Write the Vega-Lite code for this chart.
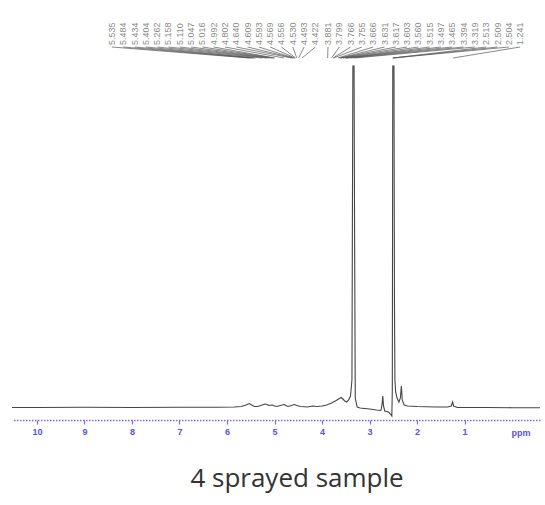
{
  "$schema": "https://vega.github.io/schema/vega-lite/v6.json",
  "width": 528,
  "height": 420,
  "autosize": "none",
  "padding": {"left": 12, "right": 5, "top": 0, "bottom": 85},
  "background": "white",
  "title": {"text": "4 sprayed sample", "orient": "bottom", "font": "Open Sans", "fontSize": 26, "fontWeight": "normal", "color": "#333333", "offset": 29, "dx": 21},
  "config": {"view": {"stroke": null}},
  "datasets": {
    "spectrum": [
      {"ppm": 10.55, "intensity": 12.5}, {"ppm": 10.0, "intensity": 12.5}, {"ppm": 9.0, "intensity": 12.7}, {"ppm": 8.0, "intensity": 12.5},
      {"ppm": 7.0, "intensity": 12.7}, {"ppm": 6.2, "intensity": 12.8}, {"ppm": 5.85, "intensity": 13}, {"ppm": 5.7, "intensity": 13.5},
      {"ppm": 5.6, "intensity": 15}, {"ppm": 5.53, "intensity": 16.5}, {"ppm": 5.48, "intensity": 15}, {"ppm": 5.42, "intensity": 13.5},
      {"ppm": 5.35, "intensity": 13.5}, {"ppm": 5.26, "intensity": 15}, {"ppm": 5.2, "intensity": 16}, {"ppm": 5.16, "intensity": 15.5},
      {"ppm": 5.11, "intensity": 14.5}, {"ppm": 5.05, "intensity": 15}, {"ppm": 5.0, "intensity": 14}, {"ppm": 4.95, "intensity": 13.5},
      {"ppm": 4.88, "intensity": 14.5}, {"ppm": 4.8, "intensity": 15.5}, {"ppm": 4.72, "intensity": 13.5}, {"ppm": 4.64, "intensity": 14.5},
      {"ppm": 4.58, "intensity": 15.5}, {"ppm": 4.53, "intensity": 14.5}, {"ppm": 4.45, "intensity": 13.5}, {"ppm": 4.3, "intensity": 13},
      {"ppm": 4.2, "intensity": 14}, {"ppm": 4.1, "intensity": 13.5}, {"ppm": 4.0, "intensity": 14}, {"ppm": 3.9, "intensity": 15},
      {"ppm": 3.8, "intensity": 17}, {"ppm": 3.72, "intensity": 19}, {"ppm": 3.65, "intensity": 21}, {"ppm": 3.6, "intensity": 22.5},
      {"ppm": 3.56, "intensity": 21}, {"ppm": 3.52, "intensity": 19}, {"ppm": 3.48, "intensity": 18}, {"ppm": 3.44, "intensity": 20},
      {"ppm": 3.4, "intensity": 24}, {"ppm": 3.37, "intensity": 40}, {"ppm": 3.36, "intensity": 200}, {"ppm": 3.35, "intensity": 354},
      {"ppm": 3.325, "intensity": 354}, {"ppm": 3.315, "intensity": 200}, {"ppm": 3.3, "intensity": 22}, {"ppm": 3.26, "intensity": 13},
      {"ppm": 3.2, "intensity": 12}, {"ppm": 3.0, "intensity": 11}, {"ppm": 2.85, "intensity": 10}, {"ppm": 2.76, "intensity": 9.5},
      {"ppm": 2.74, "intensity": 14}, {"ppm": 2.72, "intensity": 24}, {"ppm": 2.705, "intensity": 14}, {"ppm": 2.68, "intensity": 9},
      {"ppm": 2.6, "intensity": 8}, {"ppm": 2.56, "intensity": 6}, {"ppm": 2.53, "intensity": 4}, {"ppm": 2.52, "intensity": 30},
      {"ppm": 2.51, "intensity": 354}, {"ppm": 2.485, "intensity": 354}, {"ppm": 2.475, "intensity": 120}, {"ppm": 2.465, "intensity": 40},
      {"ppm": 2.45, "intensity": 28}, {"ppm": 2.42, "intensity": 22}, {"ppm": 2.38, "intensity": 18}, {"ppm": 2.35, "intensity": 22},
      {"ppm": 2.33, "intensity": 34}, {"ppm": 2.31, "intensity": 20}, {"ppm": 2.27, "intensity": 15}, {"ppm": 2.2, "intensity": 14},
      {"ppm": 2.0, "intensity": 13.5}, {"ppm": 1.6, "intensity": 13}, {"ppm": 1.35, "intensity": 13}, {"ppm": 1.28, "intensity": 14},
      {"ppm": 1.25, "intensity": 18}, {"ppm": 1.23, "intensity": 14}, {"ppm": 1.15, "intensity": 12.5}, {"ppm": 0.5, "intensity": 12.5},
      {"ppm": 0.0, "intensity": 12.3}, {"ppm": -0.6, "intensity": 12.3}
    ],
    "labels": [
      {"shift": 5.535, "labelPos": 8.421}, {"shift": 5.484, "labelPos": 8.183}, {"shift": 5.434, "labelPos": 7.945},
      {"shift": 5.404, "labelPos": 7.707}, {"shift": 5.262, "labelPos": 7.469}, {"shift": 5.158, "labelPos": 7.232},
      {"shift": 5.110, "labelPos": 6.994}, {"shift": 5.047, "labelPos": 6.756}, {"shift": 5.016, "labelPos": 6.518},
      {"shift": 4.992, "labelPos": 6.280}, {"shift": 4.802, "labelPos": 6.042}, {"shift": 4.640, "labelPos": 5.804},
      {"shift": 4.609, "labelPos": 5.566}, {"shift": 4.593, "labelPos": 5.328}, {"shift": 4.569, "labelPos": 5.091},
      {"shift": 4.556, "labelPos": 4.853}, {"shift": 4.530, "labelPos": 4.615}, {"shift": 4.493, "labelPos": 4.377},
      {"shift": 4.422, "labelPos": 4.139},
      {"shift": 3.881, "labelPos": 3.874}, {"shift": 3.799, "labelPos": 3.636}, {"shift": 3.766, "labelPos": 3.398},
      {"shift": 3.755, "labelPos": 3.160}, {"shift": 3.666, "labelPos": 2.922}, {"shift": 3.631, "labelPos": 2.684},
      {"shift": 3.617, "labelPos": 2.446}, {"shift": 3.603, "labelPos": 2.208}, {"shift": 3.560, "labelPos": 1.971},
      {"shift": 3.515, "labelPos": 1.733}, {"shift": 3.497, "labelPos": 1.495}, {"shift": 3.465, "labelPos": 1.257},
      {"shift": 3.394, "labelPos": 1.019}, {"shift": 3.319, "labelPos": 0.781}, {"shift": 2.513, "labelPos": 0.543},
      {"shift": 2.509, "labelPos": 0.305}, {"shift": 2.504, "labelPos": 0.067}, {"shift": 1.241, "labelPos": -0.171}
    ]
  },
  "layer": [
    {
      "data": {"name": "spectrum"},
      "mark": {"type": "line", "color": "#454545", "strokeWidth": 1.1, "clip": true},
      "encoding": {
        "x": {"field": "ppm", "type": "quantitative",
              "scale": {"domain": [-0.589, 10.526], "reverse": true, "nice": false, "zero": false},
              "axis": {"values": [1, 2, 3, 4, 5, 6, 7, 8, 9, 10], "format": "d", "grid": false,
                       "domainColor": "#7070ea", "domainDash": [1.5, 1.5], "domainWidth": 1.6,
                       "tickColor": "#7070ea", "tickSize": 4, "tickWidth": 1.2,
                       "labelColor": "#5555dd", "labelFontSize": 9, "labelFontWeight": "bold", "labelFont": "Liberation Sans", "labelPadding": 3,
                       "title": "ppm", "titleColor": "#5555dd", "titleFontSize": 9, "titleFontWeight": "bold", "titleFont": "Liberation Sans",
                       "titleAnchor": "end", "titleAlign": "right", "titleAngle": 0, "titleX": 518, "titleY": 12, "titleBaseline": "middle"}},
        "y": {"field": "intensity", "type": "quantitative", "scale": {"domain": [0, 420], "nice": false, "zero": false}, "axis": null}
      }
    },
    {
      "data": {"name": "labels"},
      "mark": {"type": "rule", "color": "#555555", "strokeWidth": 0.7},
      "encoding": {
        "x": {"field": "labelPos", "type": "quantitative"},
        "x2": {"field": "shift"},
        "y": {"datum": 373},
        "y2": {"datum": 362}
      }
    },
    {
      "data": {"name": "labels"},
      "mark": {"type": "text", "angle": 270, "align": "left", "baseline": "middle", "fontSize": 9, "font": "Liberation Sans", "color": "#8a8a8a", "dx": 1},
      "encoding": {
        "x": {"field": "labelPos", "type": "quantitative"},
        "y": {"datum": 374},
        "text": {"field": "shift", "type": "quantitative", "format": ".3f"}
      }
    }
  ]
}
